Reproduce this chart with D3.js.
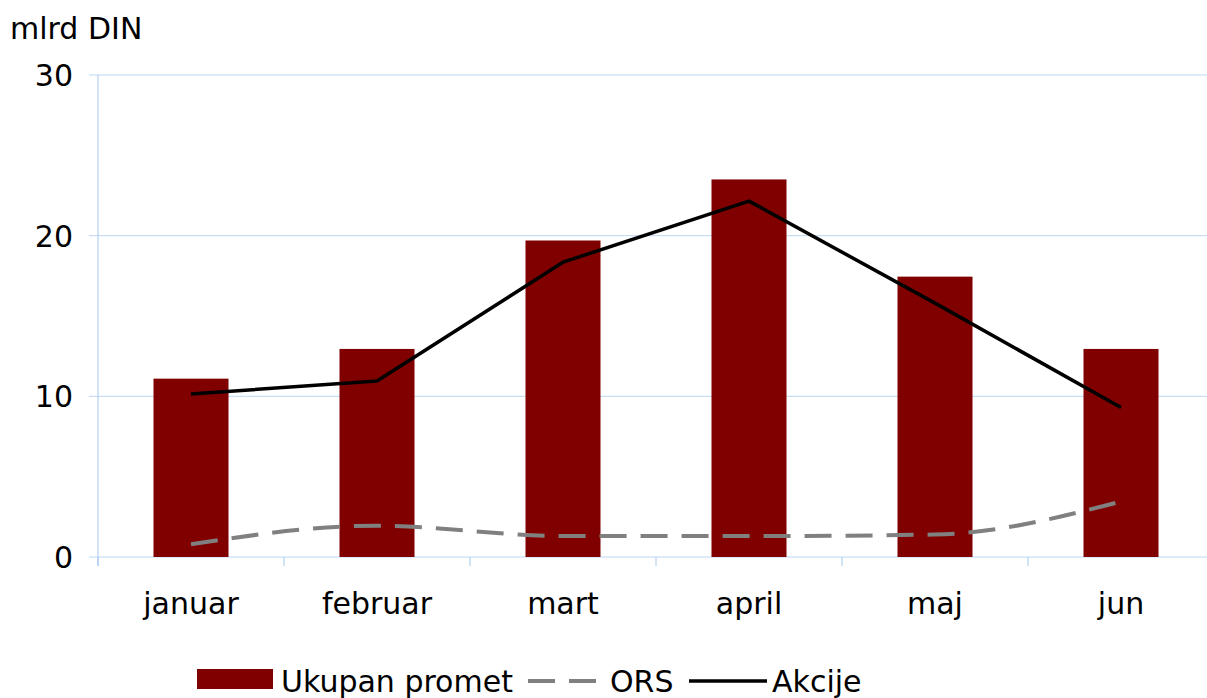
<!DOCTYPE html>
<html>
<head>
<meta charset="utf-8">
<script src="https://cdn.jsdelivr.net/npm/d3@7"></script>
<style>
  body { margin: 0; background: #fff; }
  text { font-family: "DejaVu Sans", Verdana, sans-serif; fill: #000; }
</style>
</head>
<body>
<svg width="1207" height="698"></svg>
<script>
var months = ['januar', 'februar', 'mart', 'april', 'maj', 'jun'];
var ukupanPromet = [11.1, 12.95, 19.7, 23.5, 17.45, 12.95];
var ors = [0.8, 1.95, 1.3, 1.3, 1.4, 3.45];
var akcije = [10.15, 10.95, 18.35, 22.15, 15.8, 9.3];
var yTicks = [0, 10, 20, 30];

var svg = d3.select('svg');
var padding = {t: 75, l: 98, b: 141};
var step = 186;
var chartHeight = 698 - padding.t - padding.b;

var xScale = d3.scaleBand()
    .domain(months)
    .range([padding.l, padding.l + step * months.length])
    .paddingInner(0)
    .paddingOuter(0);

var yScale = d3.scaleLinear()
    .domain([0, 30])
    .range([padding.t + chartHeight, padding.t]);

var gridColor = '#bcd6f4';
var axisColor = '#a6c8ee';
var fontSize = '30px';

// horizontal gridlines
svg.append('g')
  .selectAll('line')
  .data(yTicks)
  .enter()
  .append('line')
  .attr('x1', padding.l - 9)
  .attr('x2', 1207)
  .attr('y1', function(d) { return yScale(d); })
  .attr('y2', function(d) { return yScale(d); })
  .attr('stroke', gridColor)
  .attr('stroke-width', 1);

// y axis line
svg.append('line')
  .attr('x1', padding.l).attr('x2', padding.l)
  .attr('y1', yScale(30)).attr('y2', yScale(0) + 9)
  .attr('stroke', axisColor);

// category ticks
svg.append('g')
  .selectAll('line')
  .data(months)
  .enter()
  .append('line')
  .attr('x1', function(d) { return xScale(d); })
  .attr('x2', function(d) { return xScale(d); })
  .attr('y1', yScale(0))
  .attr('y2', yScale(0) + 9)
  .attr('stroke', axisColor);

// y tick labels
svg.append('g')
  .selectAll('text')
  .data(yTicks)
  .enter()
  .append('text')
  .attr('x', 73)
  .attr('y', function(d) { return yScale(d); })
  .attr('dy', '0.37em')
  .attr('text-anchor', 'end')
  .style('font-size', fontSize)
  .text(function(d) { return d; });

// x labels
svg.append('g')
  .selectAll('text')
  .data(months)
  .enter()
  .append('text')
  .attr('x', function(d) { return xScale(d) + xScale.bandwidth() / 2; })
  .attr('y', 614)
  .attr('text-anchor', 'middle')
  .style('font-size', fontSize)
  .text(function(d) { return d; });

svg.append('text')
  .attr('x', 10)
  .attr('y', 39)
  .style('font-size', fontSize)
  .text('mlrd DIN');

// bars
var barW = 75;
svg.append('g')
  .selectAll('rect')
  .data(ukupanPromet)
  .enter()
  .append('rect')
  .attr('x', function(d, i) { return xScale(months[i]) + xScale.bandwidth() / 2 - barW / 2; })
  .attr('y', function(d) { return yScale(d); })
  .attr('width', barW)
  .attr('height', function(d) { return yScale(0) - yScale(d); })
  .attr('fill', '#800000');

var cx = function(d, i) { return xScale(months[i]) + xScale.bandwidth() / 2; };

var orsLine = d3.line()
  .x(cx)
  .y(function(d) { return yScale(d); })
  .curve(d3.curveMonotoneX);

svg.append('path')
  .attr('d', orsLine(ors))
  .attr('fill', 'none')
  .attr('stroke', '#808080')
  .attr('stroke-width', 4)
  .attr('stroke-dasharray', '27,14');

var akcijeLine = d3.line()
  .x(cx)
  .y(function(d) { return yScale(d); });

svg.append('path')
  .attr('d', akcijeLine(akcije))
  .attr('fill', 'none')
  .attr('stroke', '#000')
  .attr('stroke-width', 3.5)
  .attr('stroke-linejoin', 'round');

// legend
var legend = svg.append('g');
legend.append('rect')
  .attr('x', 197).attr('y', 669)
  .attr('width', 76).attr('height', 20)
  .attr('fill', '#800000');
legend.append('text')
  .attr('x', 281).attr('y', 692)
  .style('font-size', fontSize)
  .text('Ukupan promet');
legend.append('line')
  .attr('x1', 528).attr('x2', 597)
  .attr('y1', 681).attr('y2', 681)
  .attr('stroke', '#808080')
  .attr('stroke-width', 4)
  .attr('stroke-dasharray', '27,14');
legend.append('text')
  .attr('x', 610).attr('y', 692)
  .style('font-size', fontSize)
  .text('ORS');
legend.append('line')
  .attr('x1', 689).attr('x2', 767)
  .attr('y1', 681).attr('y2', 681)
  .attr('stroke', '#000')
  .attr('stroke-width', 3.5);
legend.append('text')
  .attr('x', 772).attr('y', 692)
  .style('font-size', fontSize)
  .text('Akcije');
</script>
</body>
</html>
